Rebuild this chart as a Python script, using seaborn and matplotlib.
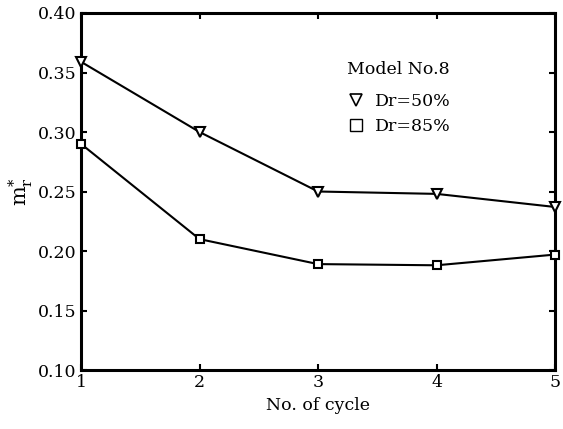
import matplotlib
matplotlib.use("Agg")
import matplotlib.pyplot as plt
from matplotlib.lines import Line2D
import seaborn as sns
import pandas as pd

# Cycle numbers and normalised m_r* for the two relative densities
cycles = [1, 2, 3, 4, 5]
dr50 = [0.359, 0.300, 0.250, 0.248, 0.237]
dr85 = [0.290, 0.210, 0.189, 0.188, 0.197]
series_labels = ["Dr=50%", "Dr=85%"]
yticks = [0.10, 0.15, 0.20, 0.25, 0.30, 0.35, 0.40]

sns.set_theme(style="ticks")
plt.rcParams["font.family"] = ["DejaVu Serif"]
plt.rcParams["mathtext.fontset"] = "dejavuserif"
plt.rcParams["text.color"] = "black"
plt.rcParams["axes.labelcolor"] = "black"

df = pd.DataFrame({
    "cycle": cycles * 2,
    "m": dr50 + dr85,
    "series": [series_labels[0]] * len(cycles) + [series_labels[1]] * len(cycles),
})

fig = plt.figure(figsize=(5.63, 4.29), dpi=100)
ax = fig.add_axes([0.1439, 0.1375, 0.8419, 0.8322])

markers = {series_labels[0]: "v", series_labels[1]: "s"}
msizes = {series_labels[0]: 7, series_labels[1]: 6}
for name in series_labels:
    sub = df[df["series"] == name]
    sns.lineplot(data=sub, x="cycle", y="m", ax=ax, color="black", lw=1.5,
                 marker=markers[name], markersize=msizes[name],
                 markerfacecolor="white", markeredgecolor="black",
                 markeredgewidth=1.5, clip_on=False, legend=False, zorder=3)

ax.set_xlim(1, 5)
ax.set_ylim(0.10, 0.40)
ax.set_xticks(cycles)
ax.set_yticks(yticks)
ax.set_yticklabels([f"{t:.2f}" for t in yticks])
ax.tick_params(direction="in", length=4, width=1.5, top=True, right=True,
               labelsize=12.5, colors="black", pad=3)
for s in ax.spines.values():
    s.set_linewidth(2.2)
    s.set_color("black")

ax.set_xlabel("No. of cycle", fontsize=12.5, labelpad=4, color="black")
ax.set_ylabel(r"$\mathrm{m}_{\mathrm{r}}^{*}$", fontsize=15, labelpad=2, color="black")

handles = [
    Line2D([], [], ls="none", marker="v", markersize=8, mfc="white", mec="black", mew=1.2),
    Line2D([], [], ls="none", marker="s", markersize=9, mfc="white", mec="black", mew=1.0),
]
leg = ax.legend(handles, series_labels, title="Model No.8", loc="upper center",
                bbox_to_anchor=(0.67, 0.90), frameon=False, fontsize=12.5,
                title_fontsize=12.5, handlelength=1.0, handletextpad=0.6,
                labelspacing=0.45, borderpad=0.2, labelcolor="black")
leg.get_title().set_color("black")
leg._legend_box.sep = 11

fig.savefig("out.png", dpi=100)
